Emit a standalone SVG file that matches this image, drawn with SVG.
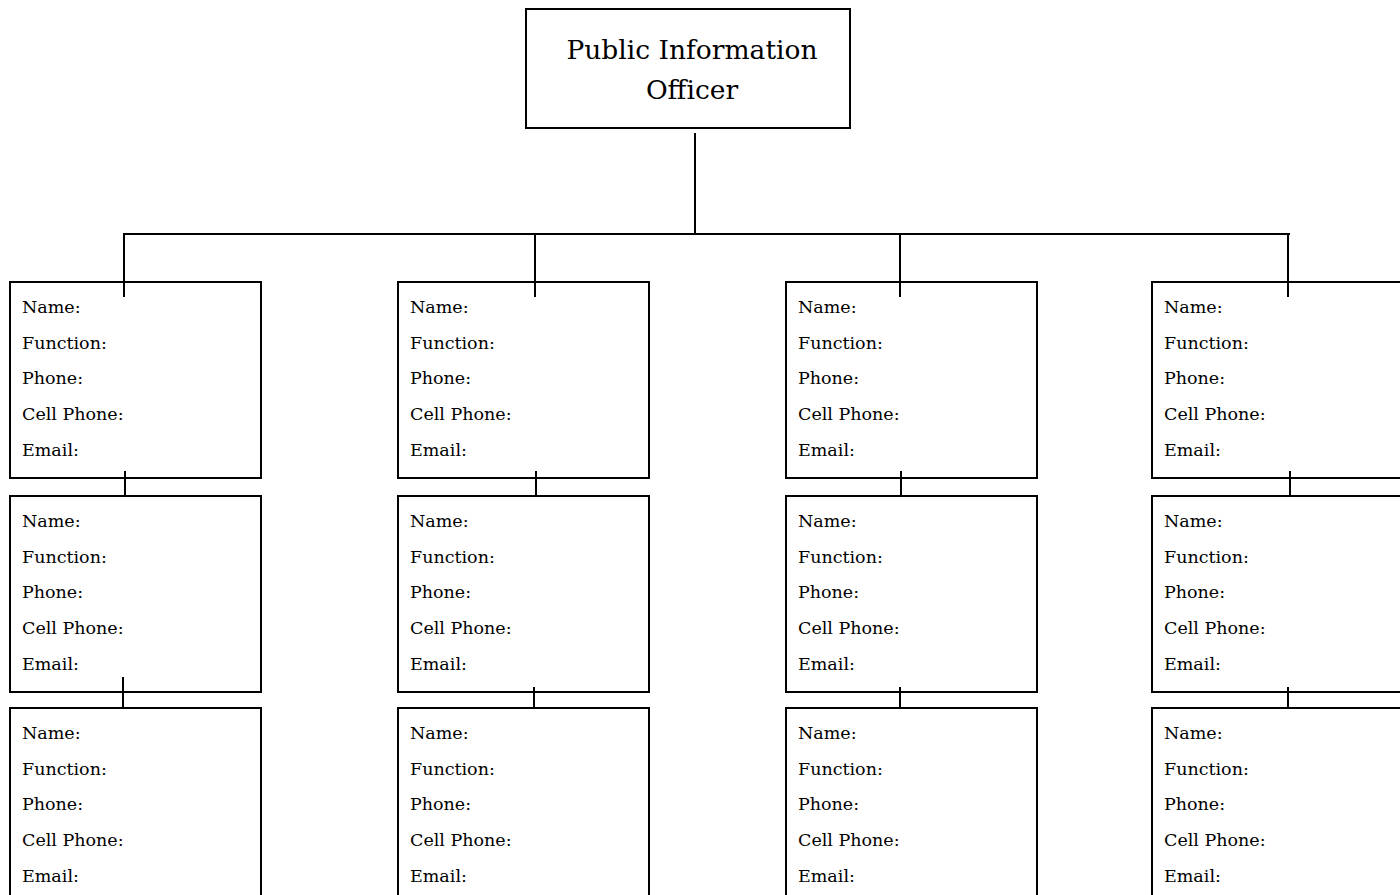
<svg xmlns="http://www.w3.org/2000/svg" width="1400" height="895" viewBox="0 0 1400 895">
  <style>
    .box { fill: #ffffff; stroke: #000000; stroke-width: 2; }
    .link { fill: none; stroke: #000000; stroke-width: 2; }
    .title { font-family: 'DejaVu Serif', 'Liberation Serif', serif; font-size: 26.5px; fill: #000000; text-anchor: middle; }
    .field { font-family: 'DejaVu Serif', 'Liberation Serif', serif; font-size: 17.5px; fill: #000000; }
  </style>
  <defs>
    <!-- one contact card: five field labels stacked inside a box -->
    <g id="card">
      <rect class="box" x="0" y="0" width="251" height="196"/>
      <text class="field" x="12" y="31">Name:</text>
      <text class="field" x="12" y="67">Function:</text>
      <text class="field" x="12" y="102">Phone:</text>
      <text class="field" x="12" y="138">Cell Phone:</text>
      <text class="field" x="12" y="174">Email:</text>
    </g>
  </defs>

  <rect width="1400" height="895" fill="#ffffff"/>

  <!-- head of the tree -->
  <g id="pio">
    <rect class="box" x="526" y="9" width="324" height="119"/>
    <text class="title" x="692" y="59">Public Information</text>
    <text class="title" x="692" y="99">Officer</text>
  </g>

  <!-- column 1 -->
  <g id="c1r1"><use href="#card" x="10" y="282"/></g>
  <g id="c1r2"><use href="#card" x="10" y="496"/></g>
  <g id="c1r3"><use href="#card" x="10" y="708"/></g>

  <!-- column 2 -->
  <g id="c2r1"><use href="#card" x="398" y="282"/></g>
  <g id="c2r2"><use href="#card" x="398" y="496"/></g>
  <g id="c2r3"><use href="#card" x="398" y="708"/></g>

  <!-- column 3 -->
  <g id="c3r1"><use href="#card" x="786" y="282"/></g>
  <g id="c3r2"><use href="#card" x="786" y="496"/></g>
  <g id="c3r3"><use href="#card" x="786" y="708"/></g>

  <!-- column 4 (runs off the right edge) -->
  <g id="c4r1"><use href="#card" x="1152" y="282"/></g>
  <g id="c4r2"><use href="#card" x="1152" y="496"/></g>
  <g id="c4r3"><use href="#card" x="1152" y="708"/></g>

  <!-- connectors, drawn over the card borders -->
  <g id="connectors">
    <line class="link" x1="695" y1="133" x2="695" y2="234"/>
    <line class="link" x1="123" y1="234" x2="1290" y2="234"/>
    <line class="link" x1="124" y1="234" x2="124" y2="297"/>
    <line class="link" x1="535" y1="234" x2="535" y2="297"/>
    <line class="link" x1="900" y1="234" x2="900" y2="297"/>
    <line class="link" x1="1288" y1="234" x2="1288" y2="297"/>

    <line class="link" x1="125" y1="471" x2="125" y2="497"/>
    <line class="link" x1="536" y1="471" x2="536" y2="497"/>
    <line class="link" x1="901" y1="471" x2="901" y2="497"/>
    <line class="link" x1="1290" y1="471" x2="1290" y2="497"/>

    <line class="link" x1="123" y1="677" x2="123" y2="708"/>
    <line class="link" x1="534" y1="687" x2="534" y2="709"/>
    <line class="link" x1="900" y1="687" x2="900" y2="709"/>
    <line class="link" x1="1288" y1="687" x2="1288" y2="709"/>
  </g>
</svg>
